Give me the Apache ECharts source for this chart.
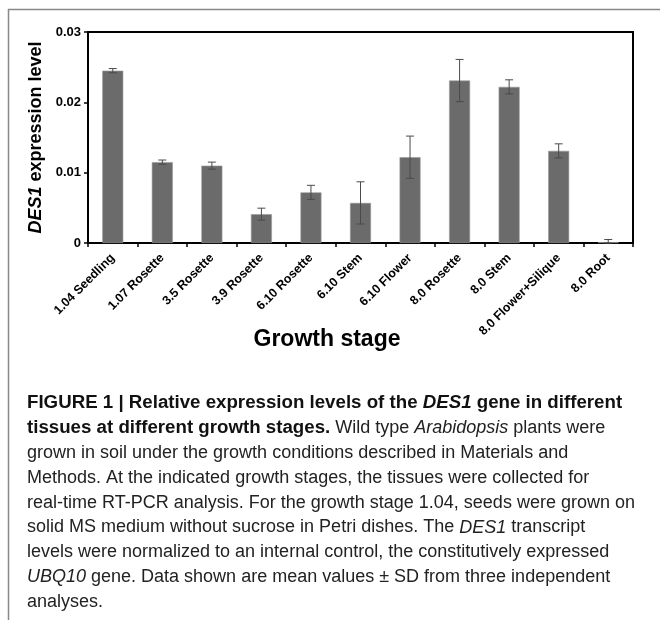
<!DOCTYPE html>
<html>
<head>
<meta charset="utf-8">
<script src="https://cdn.jsdelivr.net/npm/echarts@6/dist/echarts.min.js"></script>
<style>
  html, body { margin: 0; padding: 0; background: #fff; }
  #chart { width: 660px; height: 620px; }
</style>
</head>
<body>
<div id="chart"></div>
<script>
// growth stages (x categories)
const categories = ['1.04 Seedling', '1.07 Rosette', '3.5 Rosette', '3.9 Rosette', '6.10 Rosette',
  '6.10 Stem', '6.10 Flower', '8.0 Rosette', '8.0 Stem', '8.0 Flower+Silique', '8.0 Root']
// mean DES1 expression level
const means = [0.0245, 0.0115, 0.0110, 0.0041, 0.0072, 0.0057, 0.0122, 0.0231, 0.0222, 0.0131, 0.0001]
// standard deviation
const sds = [0.0003, 0.0003, 0.0005, 0.00085, 0.0010, 0.0030, 0.0030, 0.0030, 0.0010, 0.0010, 0.0004]
const yTicks = [0, 0.01, 0.02, 0.03]

// figure legend, one entry per printed line
const captionLines = [
  '{b|FIGURE 1 | Relative expression levels of the }{bi|DES1}{b| gene in different}',
  '{b|tissues at different growth stages.} Wild type {i|Arabidopsis} plants were',
  'grown in soil under the growth conditions described in Materials and',
  'Methods. At the indicated growth stages, the tissues were collected for',
  'real-time RT-PCR analysis. For the growth stage 1.04, seeds were grown on',
  'solid MS medium without sucrose in Petri dishes. The {i|DES1} transcript',
  'levels were normalized to an internal control, the constitutively expressed',
  '{i|UBQ10} gene. Data shown are mean values \u00b1 SD from three independent',
  'analyses.'
]

const chart = echarts.init(document.getElementById('chart'))

const errData = means.map((m, i) => [i, Math.max(0, m - sds[i]), m + sds[i]])

const captionFont = 'Liberation Sans'
const capSize = 18
const capBold = 18.7
const captionGraphics = captionLines.map((line, i) => ({
  type: 'text',
  x: 27,
  y: 403 + i * 24.9,
  style: {
    text: line,
    fill: '#222',
    font: capSize + 'px "' + captionFont + '"',
    verticalAlign: 'middle',
    rich: {
      b: { fontWeight: 'bold', fontSize: capBold, fontFamily: captionFont, fill: '#111' },
      bi: { fontWeight: 'bold', fontStyle: 'italic', fontSize: capBold, fontFamily: captionFont, fill: '#111' },
      i: { fontStyle: 'italic', fontSize: capSize, fontFamily: captionFont, fill: '#222' }
    }
  }
}))

const option = {
  animation: false,
  backgroundColor: '#fff',
  textStyle: { fontFamily: 'Liberation Sans' },
  grid: {
    left: 88, right: 27, top: 32, bottom: 377,
    show: true, borderColor: '#000', borderWidth: 2, backgroundColor: 'transparent'
  },
  xAxis: {
    type: 'category',
    data: categories,
    axisLine: { lineStyle: { color: '#000', width: 2 } },
    axisTick: { show: true, length: 4, lineStyle: { color: '#000', width: 1.5 } },
    axisLabel: {
      rotate: 45, margin: 13, interval: 0,
      fontSize: 12.5, fontWeight: 'bold', color: '#000', fontFamily: 'Liberation Sans'
    }
  },
  yAxis: {
    type: 'value',
    min: 0, max: 0.03, interval: 0.01,
    splitLine: { show: false },
    axisLine: { show: true, lineStyle: { color: '#000', width: 2 } },
    axisTick: { show: true, length: 4, lineStyle: { color: '#000', width: 1.5 } },
    axisLabel: {
      margin: 7, fontSize: 13, fontWeight: 'bold', color: '#000',
      formatter: v => (yTicks.indexOf(v) === 0 ? '0' : String(v))
    },
    name: '{i|DES1}{n| expression level}',
    nameLocation: 'middle',
    nameGap: 31,
    nameRotate: 90,
    nameTextStyle: {
      rich: {
        i: { fontSize: 18, fontWeight: 'bold', fontStyle: 'italic', color: '#000' },
        n: { fontSize: 18, fontWeight: 'bold', color: '#000' }
      }
    }
  },
  series: [
    {
      type: 'bar',
      data: means,
      barWidth: 21,
      itemStyle: { color: '#6b6b6b', borderColor: '#9a9a9a', borderWidth: 0.6 }
    },
    {
      type: 'custom',
      data: errData,
      z: 10,
      renderItem(params, api) {
        const x = api.value(0)
        const top = api.coord([x, api.value(2)])
        const bot = api.coord([x, api.value(1)])
        const hw = 4
        const style = { stroke: '#4a4a4a', lineWidth: 1 }
        return {
          type: 'group',
          children: [
            { type: 'line', shape: { x1: top[0], y1: top[1], x2: bot[0], y2: bot[1] }, style },
            { type: 'line', shape: { x1: top[0] - hw, y1: top[1], x2: top[0] + hw, y2: top[1] }, style },
            { type: 'line', shape: { x1: bot[0] - hw, y1: bot[1], x2: bot[0] + hw, y2: bot[1] }, style }
          ]
        }
      }
    }
  ],
  graphic: [
    // frame lines of the figure panel
    { type: 'line', shape: { x1: 8, y1: 9.5, x2: 660, y2: 9.5 }, style: { stroke: '#888', lineWidth: 1.5 } },
    { type: 'line', shape: { x1: 8.5, y1: 9, x2: 8.5, y2: 620 }, style: { stroke: '#888', lineWidth: 1.5 } },
    {
      type: 'text', x: 327, y: 340,
      style: {
        text: 'Growth stage', fill: '#000', font: 'bold 23px "Liberation Sans"',
        align: 'center', verticalAlign: 'middle'
      }
    }
  ].concat(captionGraphics)
}

chart.setOption(option)
</script>
</body>
</html>
